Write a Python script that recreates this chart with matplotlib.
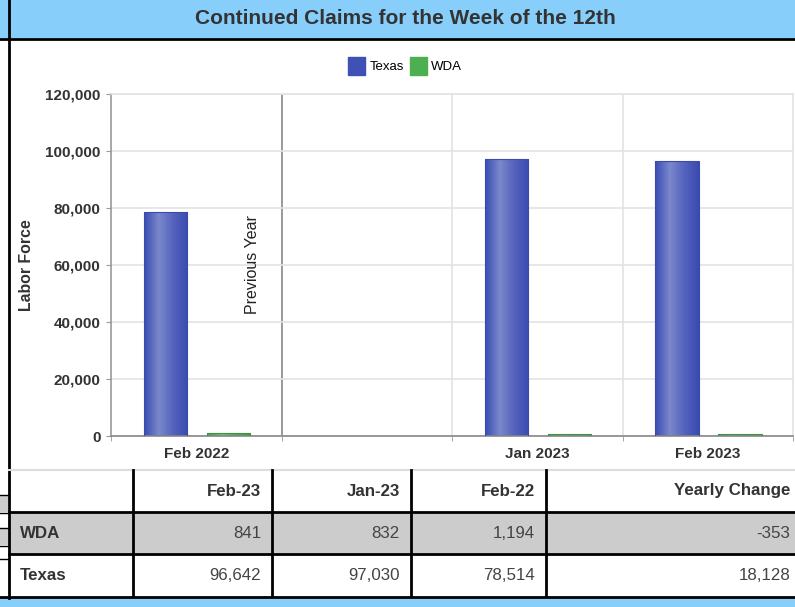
import numpy as np
import matplotlib
matplotlib.use('Agg')
import matplotlib.pyplot as plt
from matplotlib.patches import Rectangle
from matplotlib.colors import LinearSegmentedColormap

plt.rcParams['font.family'] = ['Liberation Sans', 'DejaVu Sans']

# data
categories = ['Feb 2022', '', 'Jan 2023', 'Feb 2023']
texas = [78514, np.nan, 97030, 96642]
wda = [1194, np.nan, 832, 841]

table_cols = ['Feb-23', 'Jan-23', 'Feb-22', 'Yearly Change']
table_rows = ['WDA', 'Texas']
table_vals = [['841', '832', '1,194', '-353'],
              ['96,642', '97,030', '78,514', '18,128']]

W, H = 795, 607
fig = plt.figure(figsize=(W / 100, H / 100), dpi=100)

# page overlay in pixel coords (y from top)
bg = fig.add_axes([0, 0, 1, 1], zorder=0)
bg.set_xlim(0, W)
bg.set_ylim(H, 0)
bg.axis('off')

blue_band = '#87cefa'
bg.add_patch(Rectangle((0, 0), W, 38, color=blue_band, lw=0))
bg.plot([0, W], [39, 39], color='black', lw=2)
bg.add_patch(Rectangle((0, 598), W, 9, color=blue_band, lw=0))
bg.plot([0, W], [597, 597], color='black', lw=2)
bg.plot([9, 9], [0, 598], color='black', lw=2)
bg.text(405, 19, 'Continued Claims for the Week of the 12th', ha='center', va='center',
        fontsize=15, fontweight='bold', color='#333333')

# clipped fragments of neighbouring table on left edge
for y0, y1 in [(496, 512), (529, 545)]:
    bg.add_patch(Rectangle((0, y0), 8, y1 - y0, color='#cccccc', lw=0))
for yy in [495, 513, 528, 546, 559]:
    bg.plot([0, 8], [yy, yy], color='black', lw=1)

# table
col_x = [9, 133, 272, 411, 546, 795]
col_pad = [11, 11, 11, 5]
row_y = [470, 512, 554, 596]
bg.add_patch(Rectangle((9, row_y[1]), W - 9, row_y[2] - row_y[1], color='#cccccc', lw=0))
bg.plot([9, W], [470, 470], color='#dddddd', lw=1.5)
for yy in row_y[1:3]:
    bg.plot([9, W], [yy, yy], color='black', lw=2)
for xx in col_x[1:5]:
    bg.plot([xx, xx], [row_y[0], row_y[3]], color='black', lw=2)

for j, name in enumerate(table_cols):
    bg.text(col_x[j + 2] - col_pad[j], (row_y[0] + row_y[1]) / 2, name, ha='right', va='center',
            fontsize=12.2, fontweight='bold', color='#333333')
for i, rname in enumerate(table_rows):
    yc = (row_y[i + 1] + row_y[i + 2]) / 2
    bg.text(col_x[0] + 11, yc, rname, ha='left', va='center',
            fontsize=12.2, fontweight='bold', color='#333333')
    for j, v in enumerate(table_vals[i]):
        bg.text(col_x[j + 2] - col_pad[j], yc, v, ha='right', va='center',
                fontsize=12.2, color='#444444')

# chart
ax = fig.add_axes([111 / W, 1 - 436 / H, (793 - 111) / W, (436 - 94) / H], zorder=1)
ax.set_facecolor('none')

x = np.arange(len(categories))
bw = 0.255
tex_x = x + 0.32
wda_x = x + 0.69

blue_cmap = LinearSegmentedColormap.from_list('b', ['#3a4db2', '#7b88cc', '#5563bd', '#3a4cb0'])
green_cmap = LinearSegmentedColormap.from_list('g', ['#3f9f45', '#6fc273', '#4cae51', '#3c9a42'])
grad = np.linspace(0, 1, 64).reshape(1, -1)

for xs, vals, cmap, edge in [(tex_x, texas, blue_cmap, '#3a4aa8'), (wda_x, wda, green_cmap, '#3a9440')]:
    bars = ax.bar(xs, vals, width=bw, color='none', edgecolor=edge, lw=0.8, zorder=3)
    for b, v in zip(bars, vals):
        if np.isnan(v):
            continue
        im = ax.imshow(grad, cmap=cmap, aspect='auto', zorder=2,
                       extent=[b.get_x(), b.get_x() + b.get_width(), 0, b.get_height()])
        im.set_clip_path(b)

ax.set_xlim(0, 4)
ax.set_ylim(0, 120000)

ax.set_yticks(np.arange(0, 120001, 20000))
ax.set_yticklabels([f'{v:,}' for v in range(0, 120001, 20000)], fontweight='bold', fontsize=11, color='#333333')
ax.tick_params(axis='y', direction='out', length=3.6, color='#999999', pad=4)
ax.grid(axis='y', color='#e3e3e3', lw=1.2, zorder=0)

ax.set_xticks(x + 0.5)
ax.set_xticklabels(categories, fontweight='bold', fontsize=11, color='#333333')
ax.tick_params(axis='x', length=0, pad=8)
ax.set_xticks(np.arange(0, 5), minor=True)
ax.tick_params(axis='x', which='minor', direction='out', length=3.6, color='#999999')
for xv in [2, 3]:
    ax.axvline(xv, color='#e3e3e3', lw=1.2, zorder=0)
ax.axvline(1, color='#888888', lw=1.2, zorder=1)

for s in ['top', 'right']:
    ax.spines[s].set_color('#e3e3e3')
ax.spines['left'].set_color('#999999')
ax.spines['bottom'].set_color('#888888')
for s in ax.spines.values():
    s.set_linewidth(1.2)

ax.text(0.83, 0.5, 'Previous Year', rotation=90, ha='center', va='center',
        transform=ax.get_xaxis_transform(), fontsize=11.5, color='#222222')

fig.text(27 / W, 1 - 265 / H, 'Labor Force', rotation=90, ha='center', va='center',
         fontsize=11.4, fontweight='bold', color='#333333')

# legend
h1 = Rectangle((0, 0), 1, 1, color='#3f51b5')
h2 = Rectangle((0, 0), 1, 1, color='#4caf50')
fig.legend([h1, h2], ['Texas', 'WDA'], loc='center', bbox_to_anchor=(405 / W, 1 - 66 / H), ncol=2,
           frameon=False, fontsize=9.5, handlelength=1.3, handleheight=1.75,
           handletextpad=0.35, columnspacing=0.45)

fig.savefig('out.png', dpi=100)
